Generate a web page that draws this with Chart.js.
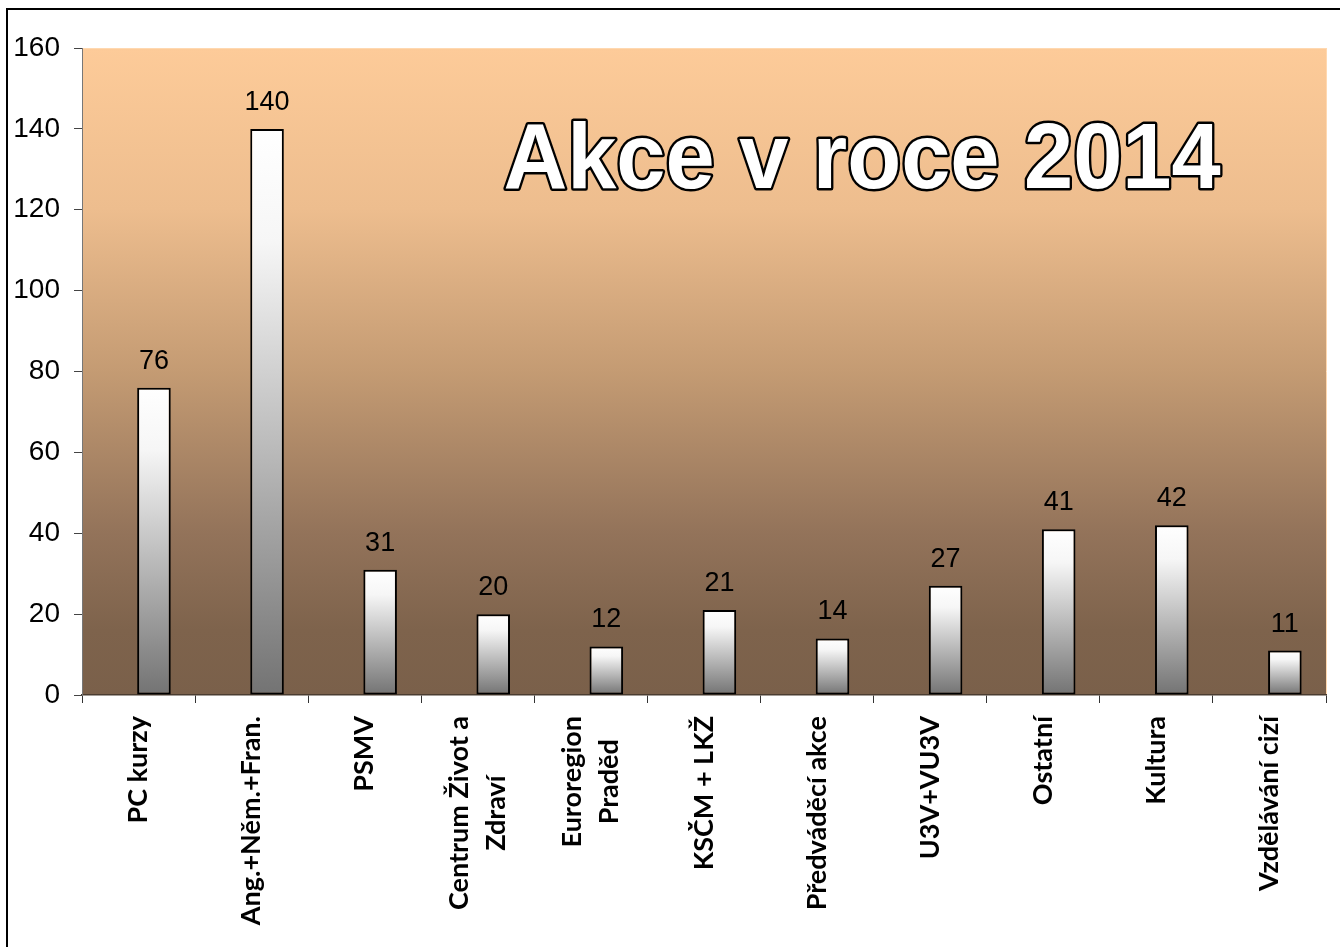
<!DOCTYPE html>
<html>
<head>
<meta charset="utf-8">
<script src="https://cdn.jsdelivr.net/npm/chart.js@4/dist/chart.umd.min.js"></script>
<style>
  html, body { margin: 0; padding: 0; background: #ffffff; }
  #wrap { width: 1340px; height: 947px; position: relative; }
</style>
</head>
<body>
<div id="wrap"><canvas id="c" width="1340" height="947"></canvas></div>
<script>
// ---- data ----
const categories = [
  'PC kurzy',
  'Ang.+Něm.+Fran.',
  'PSMV',
  ['Centrum Život a', 'Zdraví'],
  ['Euroregion', 'Praděd'],
  'KSČM + LKŽ',
  'Předváděcí akce',
  'U3V+VU3V',
  'Ostatní',
  'Kultura',
  'Vzdělávání cizí'
];
const emptySeries = [null, null, null, null, null, null, null, null, null, null, null];
const akceValues = [76, 140, 31, 20, 12, 21, 14, 27, 41, 42, 11];
const yTickMin = 0;
const yTickMax = 160;
const yTickStep = 20;
const chartTitle = 'Akce v roce 2014';

// ---- plugins ----
const frameAndBackground = {
  id: 'frameAndBackground',
  beforeDraw(chart) {
    const { ctx, chartArea: a } = chart;
    ctx.save();
    // outer frame
    ctx.strokeStyle = '#000000';
    ctx.lineWidth = 2;
    ctx.strokeRect(7, 9, 1400, 1000);
    // plot area gradient
    const g = ctx.createLinearGradient(0, a.top, 0, a.bottom);
    g.addColorStop(0, '#FDCB99');
    g.addColorStop(0.25, '#EDBD8E');
    g.addColorStop(0.5, '#C49B73');
    g.addColorStop(0.75, '#93735A');
    g.addColorStop(0.9, '#7E634C');
    g.addColorStop(1, '#7A604A');
    ctx.fillStyle = g;
    ctx.fillRect(a.left, a.top, a.right - a.left, a.bottom - a.top);
    ctx.strokeStyle = '#FFD8B0';
    ctx.lineWidth = 1;
    ctx.beginPath();
    ctx.moveTo(a.right + 0.5, a.top);
    ctx.lineTo(a.right + 0.5, a.bottom);
    ctx.moveTo(a.left, a.top + 0.5);
    ctx.lineTo(a.right, a.top + 0.5);
    ctx.stroke();
    ctx.restore();
  }
};

const labelsAndTitle = {
  id: 'labelsAndTitle',
  afterDatasetsDraw(chart) {
    const { ctx } = chart;
    const meta = chart.getDatasetMeta(1);
    ctx.save();
    ctx.fillStyle = '#000000';
    ctx.font = '27px "Liberation Sans", Arial, sans-serif';
    ctx.textAlign = 'center';
    ctx.textBaseline = 'alphabetic';
    meta.data.forEach((el, i) => {
      ctx.fillText(String(akceValues[i]), el.x, el.y - 19);
    });
    ctx.restore();
  },
  afterDraw(chart) {
    const { ctx } = chart;
    const xs = chart.scales.x;
    ctx.save();
    // x category labels
    ctx.fillStyle = '#000000';
    ctx.font = 'bold 27px Lato, "Open Sans", sans-serif';
    const labs = chart.data.labels;
    labs.forEach((lab, i) => {
      const lines = Array.isArray(lab) ? lab : [lab];
      const cx = xs.getPixelForValue(i);
      const maxW = Math.max(...lines.map(l => ctx.measureText(l).width));
      const cy = xs.top + 21 + maxW / 2;
      lines.forEach((l, j) => {
        const lx = cx + (j - (lines.length - 1) / 2) * 37;
        ctx.save();
        ctx.translate(lx, cy);
        ctx.rotate(-Math.PI / 2);
        ctx.textAlign = 'center';
        ctx.textBaseline = 'middle';
        ctx.fillText(l, 0, 0);
        ctx.restore();
      });
    });
    // title
    ctx.save();
    ctx.translate(862, 188);
    ctx.scale(0.95, 1);
    ctx.font = 'bold 93px "Liberation Sans", Arial, sans-serif';
    ctx.textAlign = 'center';
    ctx.textBaseline = 'alphabetic';
    ctx.lineJoin = 'round';
    ctx.lineWidth = 5;
    ctx.strokeStyle = '#000000';
    ctx.strokeText(chartTitle, 0, 0);
    ctx.fillStyle = '#ffffff';
    ctx.fillText(chartTitle, 0, 0);
    ctx.restore();
    ctx.restore();
  }
};

function barGradient(context) {
  const chart = context.chart;
  const { chartArea, scales } = chart;
  if (!chartArea || context.type !== 'data' || context.raw == null) return '#cccccc';
  const top = scales.y.getPixelForValue(context.raw);
  const bottom = scales.y.getPixelForValue(0);
  const g = chart.ctx.createLinearGradient(0, top, 0, bottom);
  g.addColorStop(0, '#ffffff');
  g.addColorStop(0.2, '#f6f6f6');
  g.addColorStop(1, '#737373');
  return g;
}

new Chart(document.getElementById('c'), {
  type: 'bar',
  data: {
    labels: categories,
    datasets: [
      { label: 'empty', data: emptySeries, backgroundColor: 'rgba(0,0,0,0)' },
      {
        label: 'Akce',
        data: akceValues,
        backgroundColor: barGradient,
        borderColor: '#000000',
        borderWidth: 2,
        borderSkipped: false
      }
    ]
  },
  plugins: [frameAndBackground, labelsAndTitle],
  options: {
    responsive: false,
    animation: false,
    devicePixelRatio: 1,
    categoryPercentage: 0.545,
    barPercentage: 1.09,
    layout: { padding: { left: 0, top: 48, right: 14, bottom: 0 } },
    plugins: {
      legend: { display: false },
      tooltip: { enabled: false },
      title: { display: false }
    },
    scales: {
      x: {
        offset: true,
        grid: {
          offset: true,
          drawOnChartArea: false,
          drawTicks: true,
          tickLength: 8,
          color: '#333333'
        },
        border: { display: true, color: '#4a3c30', width: 1.5 },
        ticks: { display: false },
        afterFit(scale) { scale.height = 252; }
      },
      y: {
        min: yTickMin,
        max: yTickMax,
        ticks: {
          stepSize: yTickStep,
          color: '#000000',
          padding: 14,
          font: { family: '"Liberation Sans", Arial, sans-serif', size: 28 }
        },
        grid: {
          drawOnChartArea: false,
          drawTicks: true,
          tickLength: 8,
          color: '#444444'
        },
        border: { display: true, color: '#777777', width: 1 },
        afterFit(scale) { scale.width = 82; }
      }
    }
  }
});
</script>
</body>
</html>
